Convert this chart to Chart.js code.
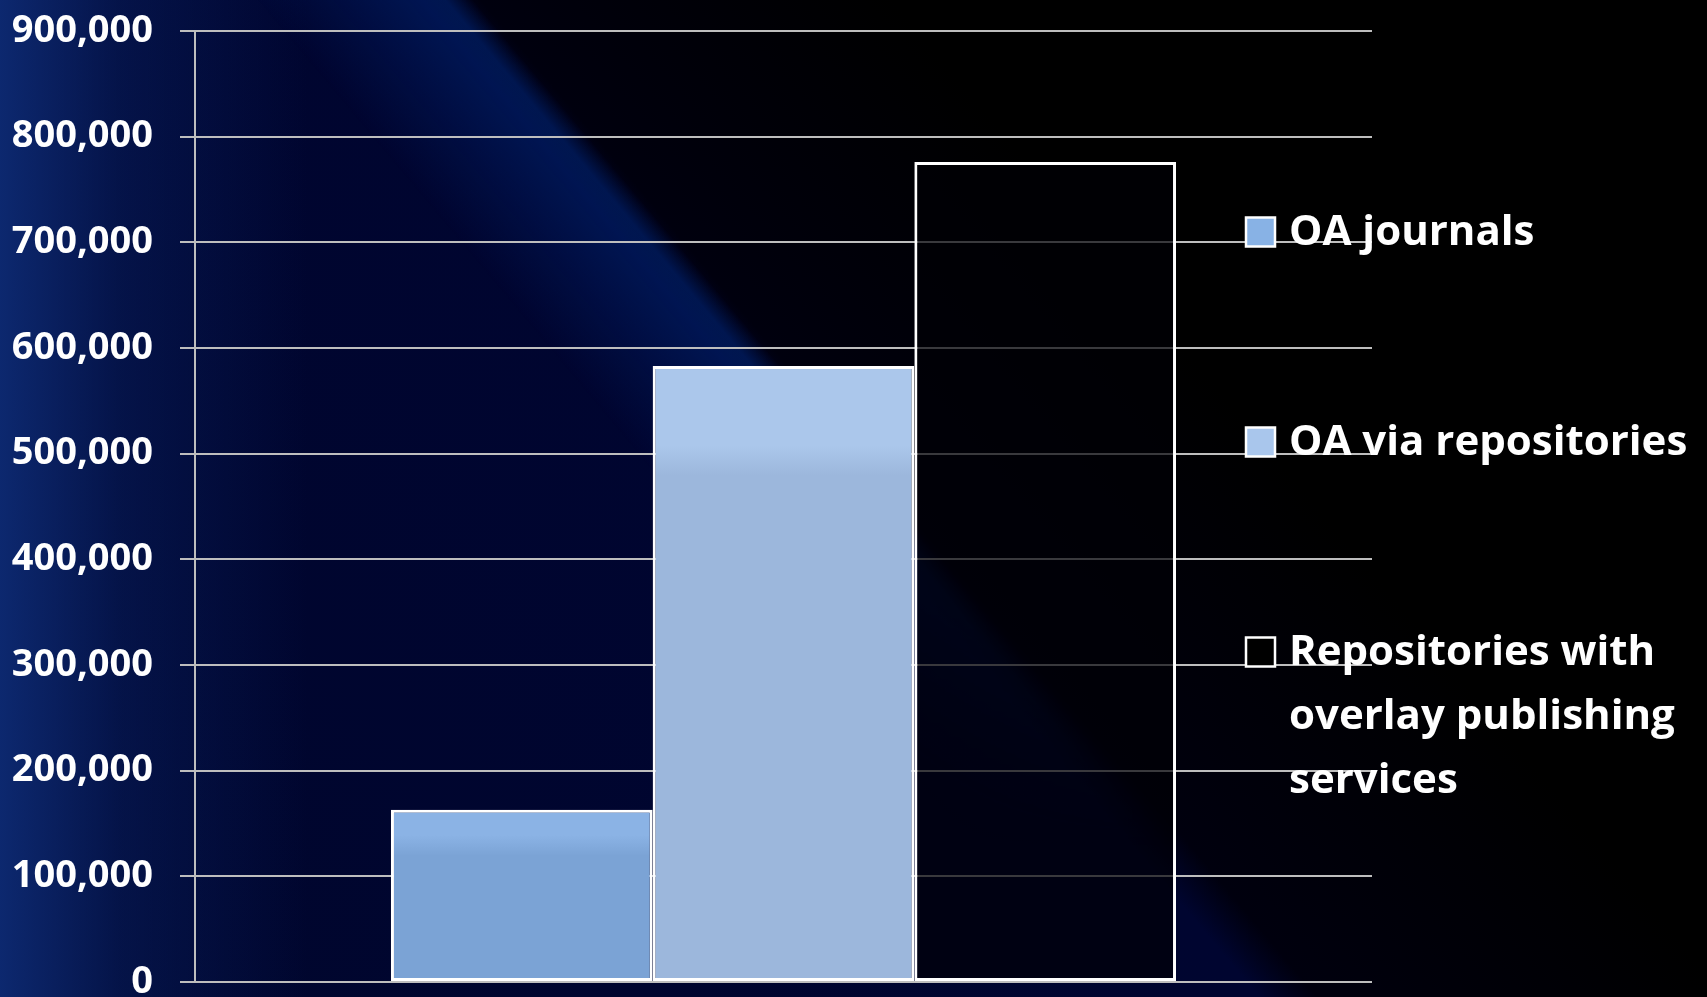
<!DOCTYPE html>
<html>
<head>
<meta charset="utf-8">
<script src="https://cdn.jsdelivr.net/npm/chart.js@4.4.1/dist/chart.umd.min.js"></script>
<style>
  html, body { margin: 0; padding: 0; width: 1707px; height: 997px; overflow: hidden; }
  body {
    position: relative;
    background:
      linear-gradient(90deg, rgba(14,44,118,0.9) 0%, rgba(10,36,104,0.45) 7%, rgba(0,0,0,0) 18%),
      linear-gradient(50deg, #00062e 0%, #000530 49.5%, #00000e 51.8%, #000000 68%);
  }
  #streak {
    position: absolute; left: 0; top: 0; width: 1707px; height: 997px;
    background: linear-gradient(50deg, rgba(0,0,0,0) 43%, rgba(0,42,125,0.5) 50.4%, rgba(0,0,0,0) 51.5%);
    -webkit-mask-image: linear-gradient(180deg, #000 0%, #000 45%, rgba(0,0,0,0) 85%);
    mask-image: linear-gradient(180deg, #000 0%, #000 45%, rgba(0,0,0,0) 85%);
  }
  #wrap { position: absolute; left: 0; top: 0; width: 1707px; height: 997px; }
</style>
</head>
<body>
<div id="streak"></div>
<div id="wrap"><canvas id="c" width="1707" height="997"></canvas></div>
<script>
// ---- data ----
const categories = [''];
const seriesLabels = ['OA journals', 'OA via repositories', ['Repositories with', 'overlay publishing', 'services']];
const oaJournals = [163000];
const oaRepositories = [583000];
const overlayRepositories = [776000];
const yMin = 0;
const yMax = 900000;
const yStep = 100000;

// ---- styles ----
const legendFills = ['#88b2e5', '#a9c6ec', '#000000'];
const FONT = '"Open Sans", Lato, sans-serif';

function barGradient(light, dark, fade, hold) {
  return (ctx) => {
    const chart = ctx.chart;
    const y = chart.scales && chart.scales.y;
    if (!chart.chartArea || !y || ctx.raw === undefined) return dark;
    const top = y.getPixelForValue(ctx.raw);
    const g = chart.ctx.createLinearGradient(0, top, 0, top + fade);
    g.addColorStop(0, light);
    g.addColorStop(hold, light);
    g.addColorStop(1, dark);
    return g;
  };
}

const legendPlugin = {
  id: 'sideLegend',
  afterDraw(chart) {
    const ctx = chart.ctx;
    const area = chart.chartArea;
    const x0 = area.right - 126;
    const box = 29;
    ctx.save();
    ctx.font = 'bold 42px ' + FONT;
    ctx.textBaseline = 'middle';
    ctx.textAlign = 'left';
    chart.data.datasets.forEach((ds, i) => {
      const cy = area.top + 201 + i * 210;
      ctx.fillStyle = legendFills[i];
      ctx.fillRect(x0, cy - box / 2, box, box);
      ctx.lineWidth = 2.5;
      ctx.strokeStyle = '#ffffff';
      ctx.strokeRect(x0, cy - box / 2, box, box);
      ctx.fillStyle = '#ffffff';
      const lines = Array.isArray(ds.label) ? ds.label : [ds.label];
      lines.forEach((t, j) => {
        ctx.fillText(t, x0 + 43, cy + 1 + j * 64);
      });
    });
    ctx.restore();
  }
};

new Chart(document.getElementById('c'), {
  type: 'bar',
  data: {
    labels: categories,
    datasets: [
      { label: seriesLabels[0], data: oaJournals, backgroundColor: barGradient('#8bb3e5', '#7ba3d5', 46, 0.55) },
      { label: seriesLabels[1], data: oaRepositories, backgroundColor: barGradient('#abc7eb', '#9cb7dc', 110, 0.72) },
      { label: seriesLabels[2], data: overlayRepositories, backgroundColor: 'rgba(0,0,6,0.7)' }
    ]
  },
  options: {
    responsive: false,
    animation: false,
    devicePixelRatio: 1,
    layout: { padding: { left: 0, right: 335, top: 31, bottom: 15 } },
    datasets: {
      bar: {
        categoryPercentage: 0.667,
        barPercentage: 1.0,
        borderColor: '#ffffff',
        borderWidth: 3,
        borderSkipped: false
      }
    },
    plugins: {
      legend: { display: false },
      tooltip: { enabled: false },
      title: { display: false }
    },
    scales: {
      x: { display: false },
      y: {
        min: yMin,
        max: yMax,
        afterFit(scale) {
          scale.width = 195;
          scale.paddingTop = 0;
          scale.paddingBottom = 0;
        },
        ticks: {
          stepSize: yStep,
          color: '#ffffff',
          padding: 27,
          font: { family: FONT, size: 38, weight: 'bold' },
          callback: (v) => v.toLocaleString('en-US')
        },
        grid: {
          color: '#bebebe',
          lineWidth: 2,
          tickLength: 15,
          drawTicks: true
        },
        border: { display: true, color: '#bebebe', width: 2 }
      }
    }
  },
  plugins: [legendPlugin]
});
</script>
</body>
</html>
